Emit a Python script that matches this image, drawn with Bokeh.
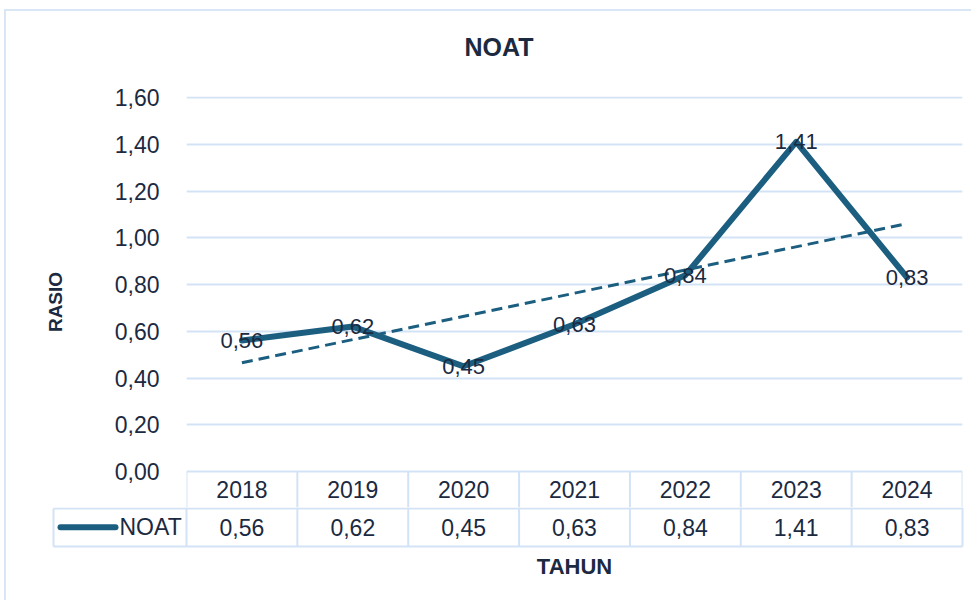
from bokeh.plotting import figure
from bokeh.layouts import column
from bokeh.models import Range1d, FixedTicker, CustomJSTickFormatter, Title
from bokeh.core.properties import value
from bokeh.embed import file_html
from bokeh.resources import INLINE
import numpy as np

# ---- data ----
years = ["2018", "2019", "2020", "2021", "2022", "2023", "2024"]
noat = [0.56, 0.62, 0.45, 0.63, 0.84, 1.41, 0.83]
y_ticks = [0.0, 0.2, 0.4, 0.6, 0.8, 1.0, 1.2, 1.4, 1.6]
series_name = "NOAT"
title_text = "NOAT"
y_label = "RASIO"
x_label = "TAHUN"

# ---- style ----
LINE = "#1b5e80"
TEXT = "#1b2a41"
GRID = "#d3e3f5"
FRAME = "#d8e6f6"
FONT = "Liberation Sans"
NUM_SIZE = "23px"
LAB_SIZE = "22px"

W = 971
A_LEFT, A_RIGHT, A_TOP = 186, 9, 96
A_H = 507
B_H = 93
B_LEFT, B_RIGHT = 50, 5

PPU = 233.75          # pixels per y unit in the plot
HEAD_PX = 36          # height of the header (years) row below y=0
Y_MAX = y_ticks[-1]

xs = list(range(1, len(years) + 1))
labels = [f"{v:.2f}".replace(".", ",") for v in noat]

# linear trend line of the series
coef = np.polyfit(xs, noat, 1)
trend_x = [xs[0], xs[-1]]
trend_y = [coef[0] * x + coef[1] for x in trend_x]

y_bot = -HEAD_PX / PPU
p = figure(width=W, height=A_H,
           x_range=Range1d(0.5, len(years) + 0.5),
           y_range=Range1d(y_bot, Y_MAX + 1.0 / PPU),
           x_axis_location=None,
           output_backend="svg", toolbar_location=None,
           min_border_left=A_LEFT, min_border_right=A_RIGHT,
           min_border_top=A_TOP, min_border_bottom=0)
p.frame_align = False
p.border_fill_color = None
p.outline_line_color = None
p.xgrid.visible = False
p.ygrid.grid_line_color = GRID
p.ygrid.grid_line_width = 2
p.yaxis.ticker = FixedTicker(ticks=y_ticks)
p.yaxis.formatter = CustomJSTickFormatter(code="return tick.toFixed(2).replace('.', ',');")
p.yaxis.axis_line_color = None
p.yaxis.major_tick_line_color = None
p.yaxis.minor_tick_line_color = None
p.yaxis.major_label_standoff = 21
p.yaxis.major_label_text_font = FONT
p.yaxis.major_label_text_font_size = NUM_SIZE
p.yaxis.major_label_text_color = TEXT
p.yaxis.axis_label = y_label
p.yaxis.axis_label_text_font = FONT
p.yaxis.axis_label_text_font_style = "bold"
p.yaxis.axis_label_text_font_size = "19px"
p.yaxis.axis_label_text_color = TEXT
p.yaxis.axis_label_standoff = 46

# small spacer panel between the plot area and the title
p.add_layout(Title(text=" ", text_font_size="2px", standoff=2), "above")

p.title.text = title_text
p.title.align = "left"
p.title.vertical_align = "top"
p.title.offset = 278
p.title.standoff = 56
p.title.text_font = FONT
p.title.text_font_size = "25px"
p.title.text_font_style = "bold"
p.title.text_color = TEXT

# header row of the data table (inside the plot frame, below y = 0)
edges = [0.5 + i for i in range(len(years) + 1)]
p.segment(x0=edges, y0=[0] * len(edges), x1=edges, y1=[y_bot - 2 / PPU] * len(edges),
          line_color=GRID, line_width=2)
p.text(xs, [-18.3 / PPU] * len(xs), text=years, text_align="center", text_baseline="middle",
       text_font=value(FONT), text_font_size=NUM_SIZE, text_color=TEXT)

p.line(trend_x, trend_y, line_color=LINE, line_width=3, line_dash="11 6")
p.line(xs, noat, line_color=LINE, line_width=6, line_join="round", line_cap="round")
p.text(xs, noat, text=labels, text_align="center", text_baseline="middle",
       text_font=value(FONT), text_font_size=LAB_SIZE, text_color=TEXT)

# ---- value row of the data table + x label ----
unit = (W - A_LEFT - A_RIGHT) / len(years)
b_x0 = 0.5 - (A_LEFT - B_LEFT) / unit
b_x1 = b_x0 + (W - B_LEFT - B_RIGHT) / unit
LEG_CELL_PX = 133
leg_left = 0.5 - LEG_CELL_PX / unit
ROW_TOP, ROW_C, ROW_B, XLAB_C = 1.0, 19.7, 39.0, 59.0

t = figure(width=W, height=B_H,
           x_range=Range1d(b_x0, b_x1), y_range=Range1d(B_H, 0),
           x_axis_location=None, y_axis_location=None,
           output_backend="svg", toolbar_location=None,
           min_border_left=B_LEFT, min_border_right=B_RIGHT,
           min_border_top=0, min_border_bottom=0)
t.frame_align = False
t.border_fill_color = None
t.outline_line_color = None
t.grid.visible = False

t.segment(x0=edges, y0=[0] * len(edges), x1=edges, y1=[ROW_B] * len(edges),
          line_color=GRID, line_width=2)
t.segment(x0=[leg_left, leg_left, leg_left], y0=[ROW_TOP, ROW_B, ROW_TOP],
          x1=[edges[-1], edges[-1], leg_left], y1=[ROW_TOP, ROW_B, ROW_B],
          line_color=GRID, line_width=2)
t.text(xs, [ROW_C] * len(xs), text=labels, text_align="center", text_baseline="middle",
       text_font=value(FONT), text_font_size=NUM_SIZE, text_color=TEXT)
t.line([leg_left + 7 / unit, leg_left + 62 / unit], [ROW_C, ROW_C],
       line_color=LINE, line_width=6, line_cap="round")
t.text([leg_left + 66 / unit], [ROW_C], text=[series_name], text_align="left",
       text_baseline="middle", text_font=value(FONT), text_font_size=NUM_SIZE,
       text_color=TEXT)
t.text([(xs[0] + xs[-1]) / 2], [XLAB_C], text=[x_label], text_align="center",
       text_baseline="middle", text_font=value(FONT), text_font_size=LAB_SIZE,
       text_font_style="bold", text_color=TEXT)

# outer chart border (top and left edges), drawn as the layout's background
layout = column(p, t, styles={
    "background-image": f"linear-gradient({FRAME}, {FRAME}), linear-gradient({FRAME}, {FRAME})",
    "background-size": "2px 100%, 100% 2px",
    "background-position": "4px 9px, 4px 9px",
    "background-repeat": "no-repeat",
})

open("out.html", "w").write(file_html(layout, INLINE))
